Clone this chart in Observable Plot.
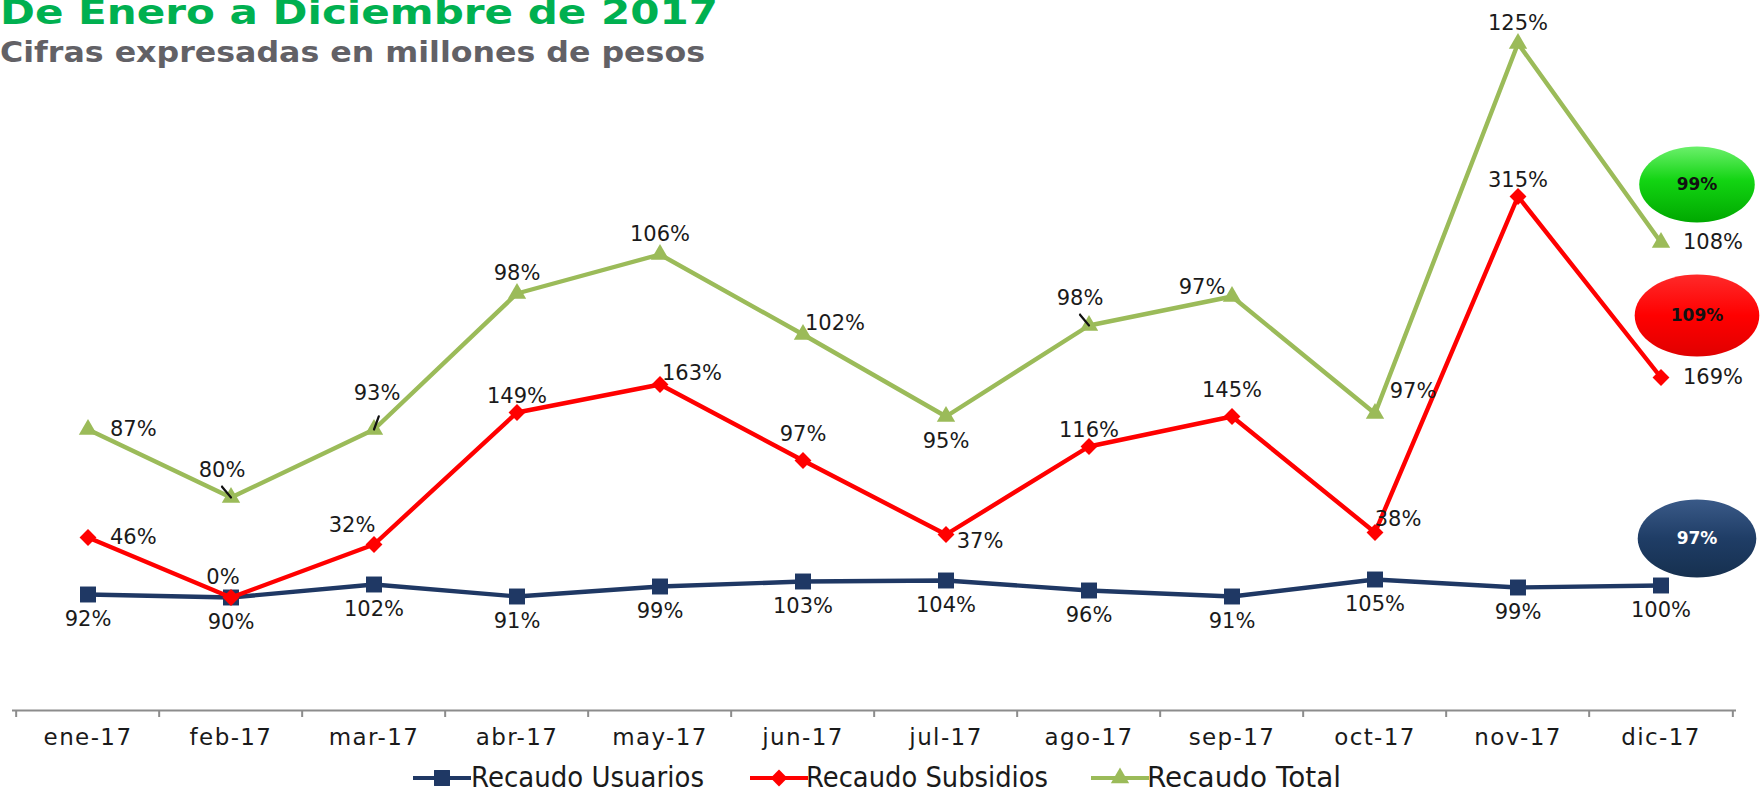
<!DOCTYPE html>
<html>
<head>
<meta charset="utf-8">
<script src="https://cdn.jsdelivr.net/npm/d3@7"></script>
<script src="https://cdn.jsdelivr.net/npm/@observablehq/plot@0.6"></script>
<style>
  html, body { margin: 0; padding: 0; background: #fff; overflow: hidden; }
  #wrap { position: relative; width: 1760px; height: 791px; overflow: hidden; font-family: "DejaVu Sans", Verdana, sans-serif; }
  .ttl { position: absolute; left: 0; white-space: nowrap; font-weight: bold; transform-origin: 0 0; display: inline-block; line-height: 1; }
  #title { top: -5px; font-size: 34px; color: #00B050; }
  #subtitle { top: 39px; font-size: 27.5px; color: #626166; }
  #chart { position: absolute; left: 0; top: 0; }
  #legend { position: absolute; left: 0; top: 765px; width: 1760px; height: 26px; font-size: 28px; color: #1a1a1a; line-height: 26px; }
  #legend .sw { position: absolute; top: 1px; display: block; }
  #legend .tx { position: absolute; top: 0; white-space: nowrap; display: inline-block; transform-origin: 0 50%; }
</style>
</head>
<body>
<div id="wrap">
  <div id="chart"></div>
  <span class="ttl" id="title">De Enero a Diciembre de 2017</span>
  <span class="ttl" id="subtitle">Cifras expresadas en millones de pesos</span>
  <div id="legend"></div>
</div>
<script>
// ---------------- DATA ----------------
const months = ["ene-17","feb-17","mar-17","abr-17","may-17","jun-17","jul-17","ago-17","sep-17","oct-17","nov-17","dic-17"];
const seriesNames = ["Recaudo Usuarios","Recaudo Subsidios","Recaudo Total"];

// plotted magnitudes (arbitrary units)
const usuariosValues  = [1160, 1130, 1260, 1140, 1240, 1290, 1300, 1200, 1140, 1310, 1230, 1250];
const subsidiosValues = [1730, 1130, 1660, 2980, 3260, 2500, 1760, 2640, 2940, 1780, 5140, 3330];
const totalValues     = [2810, 2130, 2810, 4170, 4560, 3760, 2940, 3850, 4140, 2970, 6670, 4680];

// data-label texts
const usuariosLabels  = ["92%","90%","102%","91%","99%","103%","104%","96%","91%","105%","99%","100%"];
const subsidiosLabels = ["46%","0%","32%","149%","163%","97%","37%","116%","145%","38%","315%","169%"];
const totalLabels     = ["87%","80%","93%","98%","106%","102%","95%","98%","97%","97%","125%","108%"];

// label placement keywords
const usuariosPlace  = ["below","below","below","below","below","below","below","below","below","below","below","below"];
const subsidiosPlace = ["right","aboveLeftNear","aboveLeftHigh","aboveLow","aboveRight","aboveHigh","belowRight","aboveLow","aboveHigh","aboveRightNear","aboveLow","right"];
const totalPlace     = ["right","pointerLeft","pointerUp","above","above","aboveRight","below","pointerLeft","aboveLeft","aboveRightHigh","above","right"];

// yearly summary bubbles (label, level in plot units)
const summaryLabels = ["99%","109%","97%"];
const summaryLevels = [5260, 3950, 1720];
const summarySeries = ["Recaudo Total","Recaudo Subsidios","Recaudo Usuarios"];

// ---------------- STYLE ----------------
const colors = {"Recaudo Usuarios": "#1F3864", "Recaudo Subsidios": "#FF0000", "Recaudo Total": "#9BBB59"};
const symbols = {"Recaudo Usuarios": "square", "Recaudo Subsidios": "diamond2", "Recaudo Total": "triangle"};
const symR = {"Recaudo Usuarios": 9, "Recaudo Subsidios": 7.6, "Recaudo Total": 6.8};
const bubbleR = {"Recaudo Total": 38, "Recaudo Subsidios": 41, "Recaudo Usuarios": 39};
const place = {
  above:          {dx: 0,   dy: -20},
  aboveLow:       {dx: 0,   dy: -16},
  aboveHigh:      {dx: 0,   dy: -26},
  below:          {dx: 0,   dy: 25},
  right:          {dx: 22,  dy: 0, anchor: "start"},
  aboveRight:     {dx: 32,  dy: -11},
  aboveRightHigh: {dx: 38,  dy: -22},
  aboveRightNear: {dx: 23,  dy: -13},
  aboveLeft:      {dx: -30, dy: -9},
  aboveLeftHigh:  {dx: -22, dy: -19},
  aboveLeftNear:  {dx: -8,  dy: -20},
  belowRight:     {dx: 34,  dy: 7},
  pointerLeft:    {dx: -9,  dy: -27, leader: 140},
  pointerUp:      {dx: 3,   dy: -36, leader: 200}
};
const gradIds = {"Recaudo Total": "gGreen", "Recaudo Subsidios": "gRed", "Recaudo Usuarios": "gBlue"};
const labelColors = {"Recaudo Total": "#111", "Recaudo Subsidios": "#111", "Recaudo Usuarios": "#fff"};
const legendLayout = {  // left of swatch, left of text, text width
  "Recaudo Usuarios":  [413, 471, 233],
  "Recaudo Subsidios": [750, 806, 242],
  "Recaudo Total":     [1091, 1147, 194]
};

// ---------------- BUILD ----------------
function rows(name, values, labels, places) {
  return months.map((m, i) => ({series: name, month: m, value: values[i], label: labels[i], pos: places[i]}));
}
const all = [
  rows(seriesNames[0], usuariosValues, usuariosLabels, usuariosPlace),
  rows(seriesNames[1], subsidiosValues, subsidiosLabels, subsidiosPlace),
  rows(seriesNames[2], totalValues, totalLabels, totalPlace)
];
const flat = all.flat();
const summary = summaryLabels.map((l, i) => ({label: l, value: summaryLevels[i], series: summarySeries[i], month: months[months.length - 1]}));

const W = 1760, H = 760, mL = 12, mR = 24, mT = 0, mB = 50;
const bw = (W - mL - mR) / months.length;

const ellipse = {
  draw(ctx, size) {
    const r = Math.sqrt(size / Math.PI), rx = r * 1.52, ry = r, k = 0.5523;
    ctx.moveTo(rx, 0);
    ctx.bezierCurveTo(rx, ry * k, rx * k, ry, 0, ry);
    ctx.bezierCurveTo(-rx * k, ry, -rx, ry * k, -rx, 0);
    ctx.bezierCurveTo(-rx, -ry * k, -rx * k, -ry, 0, -ry);
    ctx.bezierCurveTo(rx * k, -ry, rx, -ry * k, rx, 0);
    ctx.closePath();
  }
};

const marks = [];
marks.push(Plot.ruleY([0], {stroke: "#8c8c8c", strokeWidth: 2}));
marks.push(Plot.ruleX(months, {x: d => d, y1: 0, y2: 0, dx: -bw / 2, insetTop: 0, insetBottom: -7, stroke: "#8c8c8c", strokeWidth: 2}));
marks.push(Plot.ruleX([months[months.length - 1]], {x: d => d, y1: 0, y2: 0, dx: bw / 2, insetTop: 0, insetBottom: -7, stroke: "#8c8c8c", strokeWidth: 2}));
marks.push(Plot.axisX({tickSize: 0, tickPadding: 18, fontSize: 23, fill: "#1a1a1a", label: null, ariaLabel: "x-axis"}));

for (const r of all) {
  const s = r[0].series;
  marks.push(Plot.line(r, {x: "month", y: "value", stroke: colors[s], strokeWidth: 4.4, strokeLinejoin: "round"}));
  marks.push(Plot.dot(r, {x: "month", y: "value", symbol: symbols[s], r: symR[s], fill: colors[s], stroke: null}));
}
for (const [k, p] of Object.entries(place)) {
  if (p.leader == null) continue;
  marks.push(Plot.vector(flat.filter(d => d.pos === k), {x: "month", y: "value", length: 14, rotate: p.leader, anchor: "end", shape: "spike", r: 0.01, stroke: "#111", strokeWidth: 2.2}));
}
for (const [k, p] of Object.entries(place)) {
  marks.push(Plot.text(flat.filter(d => d.pos === k), {x: "month", y: "value", text: "label", dx: p.dx, dy: p.dy, textAnchor: p.anchor || "middle", fontSize: 21, fill: "#1a1a1a", ariaLabel: "data-label"}));
}
for (const d of summary) {
  marks.push(Plot.dot([d], {x: "month", y: "value", dx: 36, symbol: ellipse, r: bubbleR[d.series], fill: `url(#${gradIds[d.series]})`, stroke: null, ariaLabel: "bubble"}));
  marks.push(Plot.text([d], {x: "month", y: "value", dx: 36, text: "label", fontSize: 17, fontWeight: "bold", fill: labelColors[d.series]}));
}

const chart = Plot.plot({
  width: W, height: H,
  marginLeft: mL, marginRight: mR, marginTop: mT, marginBottom: mB,
  style: {fontFamily: "DejaVu Sans, Verdana, sans-serif", fontSize: "21px", color: "#1a1a1a", background: "transparent", overflow: "visible"},
  x: {type: "band", domain: months, padding: 0, axis: null},
  y: {domain: [0, 7100], axis: null},
  marks
});

d3.select(chart).insert("defs", ":first-child").html(`
  <linearGradient id="gGreen" x1="0" y1="0" x2="0" y2="1">
    <stop offset="0" stop-color="#6BF06B"/><stop offset="0.45" stop-color="#12D412"/><stop offset="1" stop-color="#00A800"/>
  </linearGradient>
  <linearGradient id="gRed" x1="0" y1="0" x2="0" y2="1">
    <stop offset="0" stop-color="#FF2A2A"/><stop offset="0.5" stop-color="#FF0000"/><stop offset="1" stop-color="#E00000"/>
  </linearGradient>
  <linearGradient id="gBlue" x1="0" y1="0" x2="0" y2="1">
    <stop offset="0" stop-color="#3A5A88"/><stop offset="0.5" stop-color="#1F3D66"/><stop offset="1" stop-color="#16304F"/>
  </linearGradient>
  <filter id="shadow" x="-20%" y="-20%" width="140%" height="150%">
    <feDropShadow dx="0" dy="2" stdDeviation="2" flood-color="#000" flood-opacity="0.35"/>
  </filter>`);
d3.select(chart).selectAll('g[aria-label="bubble"]').attr("filter", "url(#shadow)");
d3.select(chart).selectAll('g[aria-label="x-axis"] text, g[aria-label="x-axis tick label"] text').style("letter-spacing", "1.4px");
d3.select(chart).selectAll('g[aria-label="data-label"] text').style("letter-spacing", "0.6px");

document.getElementById("chart").appendChild(chart);

// legend
const legend = d3.select("#legend");
for (const s of seriesNames) {
  const [sx, tx, tw] = legendLayout[s];
  const sv = legend.append("svg").attr("class", "sw").attr("width", 58).attr("height", 24).style("left", sx + "px");
  sv.append("line").attr("x1", 0).attr("x2", 58).attr("y1", 12).attr("y2", 12).attr("stroke", colors[s]).attr("stroke-width", 4);
  sv.append("path").attr("transform", "translate(29,12)").attr("fill", colors[s])
    .attr("d", d3.symbol(s === "Recaudo Usuarios" ? d3.symbolSquare : s === "Recaudo Subsidios" ? d3.symbolDiamond2 : d3.symbolTriangle, Math.PI * symR[s] * symR[s])());
  const t = legend.append("span").attr("class", "tx").style("left", tx + "px").text(s);
  const w = t.node().getBoundingClientRect().width;
  t.style("transform", `scaleX(${tw / w})`);
}

function fit(id, target) {
  const el = document.getElementById(id);
  const w = el.getBoundingClientRect().width;
  el.style.transform = `scaleX(${target / w})`;
}
fit("title", 718);
fit("subtitle", 705);
</script>
</body>
</html>
